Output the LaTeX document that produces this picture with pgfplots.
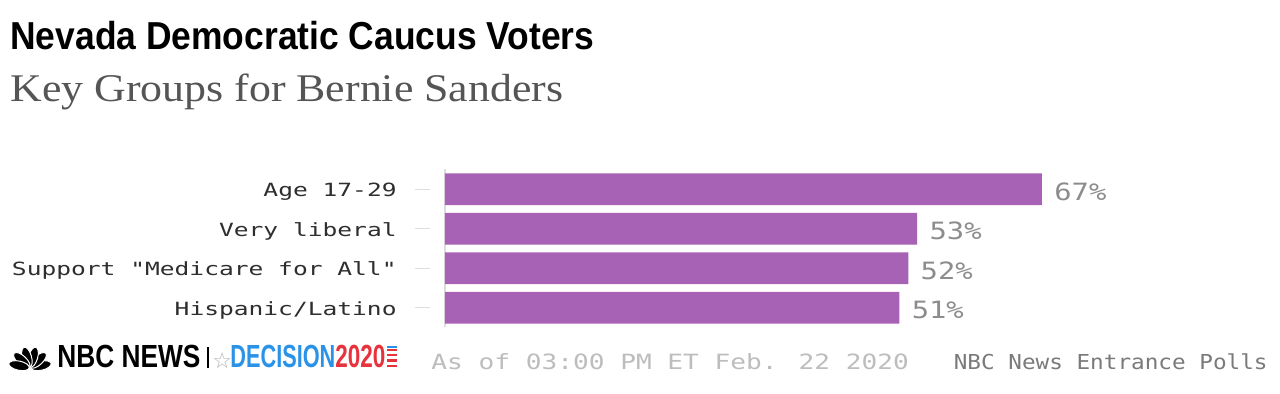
\documentclass[border=0pt]{standalone}
\usepackage{pgfplots}
\pgfplotsset{compat=1.18}
\usepackage{graphicx}
\usepackage{fontspec}
\setmainfont{Liberation Sans}
\newfontfamily\subfont{Liberation Serif}
\newfontfamily\djv{DejaVu Sans}
\newfontfamily\labfont[FakeStretch=1.35]{DejaVu Sans Mono}
\newfontfamily\valfont[FakeStretch=1.21]{DejaVu Sans Mono}
\newfontfamily\footfont[FakeStretch=1.245]{DejaVu Sans Mono}
\newfontfamily\srcfont[FakeStretch=1.1]{DejaVu Sans Mono}
\definecolor{barc}{HTML}{A862B5}
\definecolor{labc}{HTML}{2E2E2E}
\definecolor{valc}{HTML}{8C8C8C}
\definecolor{subc}{HTML}{555555}
\definecolor{asofc}{HTML}{BDBDBD}
\definecolor{srcc}{HTML}{7A7A7A}
\definecolor{decblue}{HTML}{2A93E8}
\definecolor{decred}{HTML}{E8323C}
\begin{document}
\begin{tikzpicture}[x=1pt,y=1pt]
\useasboundingbox[fill=white] (0,0) rectangle (640,197);
% title
\node[anchor=base west,inner sep=0pt] at (5,172)
  {\resizebox{292pt}{\height}{\fontsize{19.5}{22}\selectfont\bfseries Nevada Democratic Caucus Voters}};
\node[anchor=base west,inner sep=0pt,text=subc] at (5,146.2)
  {\resizebox{276.5pt}{\height}{\fontsize{19.6}{22}\subfont Key Groups for Bernie Sanders}};
\begin{axis}[
  at={(222.5pt,33.25pt)}, anchor=south west,
  scale only axis, width=356.4pt, height=79pt,
  xbar, bar width=15.85pt,
  xmin=0, xmax=80, ymin=-0.5, ymax=3.5, y dir=reverse,
  axis x line=none, axis y line*=left,
  y axis line style={draw=black!13, line width=0.6pt},
  ytick={0,1,2,3},
  yticklabels={Age 17-29,Very liberal,Support "Medicare for All",Hispanic/Latino},
  tick align=outside, major tick length=7.5pt,
  y tick style={xshift=-7.5pt, draw=black!13, line width=0.6pt},
  yticklabel style={font=\fontsize{9.1}{10}\labfont, text=labc, inner sep=0pt, anchor=base east, xshift=-16.5pt, yshift=-3.85pt},
  clip=false,
  point meta=x,
  nodes near coords={\pgfmathprintnumber{\pgfplotspointmeta}\%},
  nodes near coords style={font=\fontsize{11.9}{13}\valfont, text=valc, anchor=west, inner sep=0pt, xshift=6pt, yshift=-1.15pt,
    /pgf/number format/assume math mode=true, /pgf/number format/precision=0},
]
\addplot[fill=barc, draw=none] coordinates {(67,0) (53,1) (52,2) (51,3)};
\end{axis}
% footer logo: peacock
\foreach \a in {12,43,74,106,137,168}{
  \fill[black, draw=white, line width=0.5pt, shift={(15,13)}, rotate=\a] (5.6,0) ellipse (5.2 and 2.3);
}
\node[anchor=base west,inner sep=0pt] at (28.5,13)
  {\resizebox{71.5pt}{\height}{\fontsize{16}{18}\selectfont\bfseries NBC NEWS}};
\draw[black, line width=0.6pt] (104,13) -- (104,23.5);
\node[anchor=base west,inner sep=0pt,text=black!30] at (106,12.5) {\fontsize{11}{12}\djv ☆};
\node[anchor=base west,inner sep=0pt,text=decblue] at (115,13)
  {\resizebox{52.5pt}{\height}{\fontsize{16}{18}\selectfont\bfseries DECISION}};
\node[anchor=base west,inner sep=0pt,text=decred] at (167.5,13)
  {\resizebox{25pt}{\height}{\fontsize{16}{18}\selectfont\bfseries 2020}};
\foreach \y in {13.5,16.2,18.9,21.6}{
  \fill[decred] (193.5,\y) rectangle (198.5,\y+1.1);
}
\fill[decblue] (193.5,22.8) rectangle (198.5,24);
\node[anchor=base west,inner sep=0pt,text=asofc] at (215.5,12.25)
  {\fontsize{10.5}{12}\footfont As of 03:00 PM ET Feb. 22 2020};
\node[anchor=base east,inner sep=0pt,text=srcc] at (634,12.25)
  {\fontsize{10.3}{12}\srcfont NBC News Entrance Polls};
\end{tikzpicture}
\end{document}
